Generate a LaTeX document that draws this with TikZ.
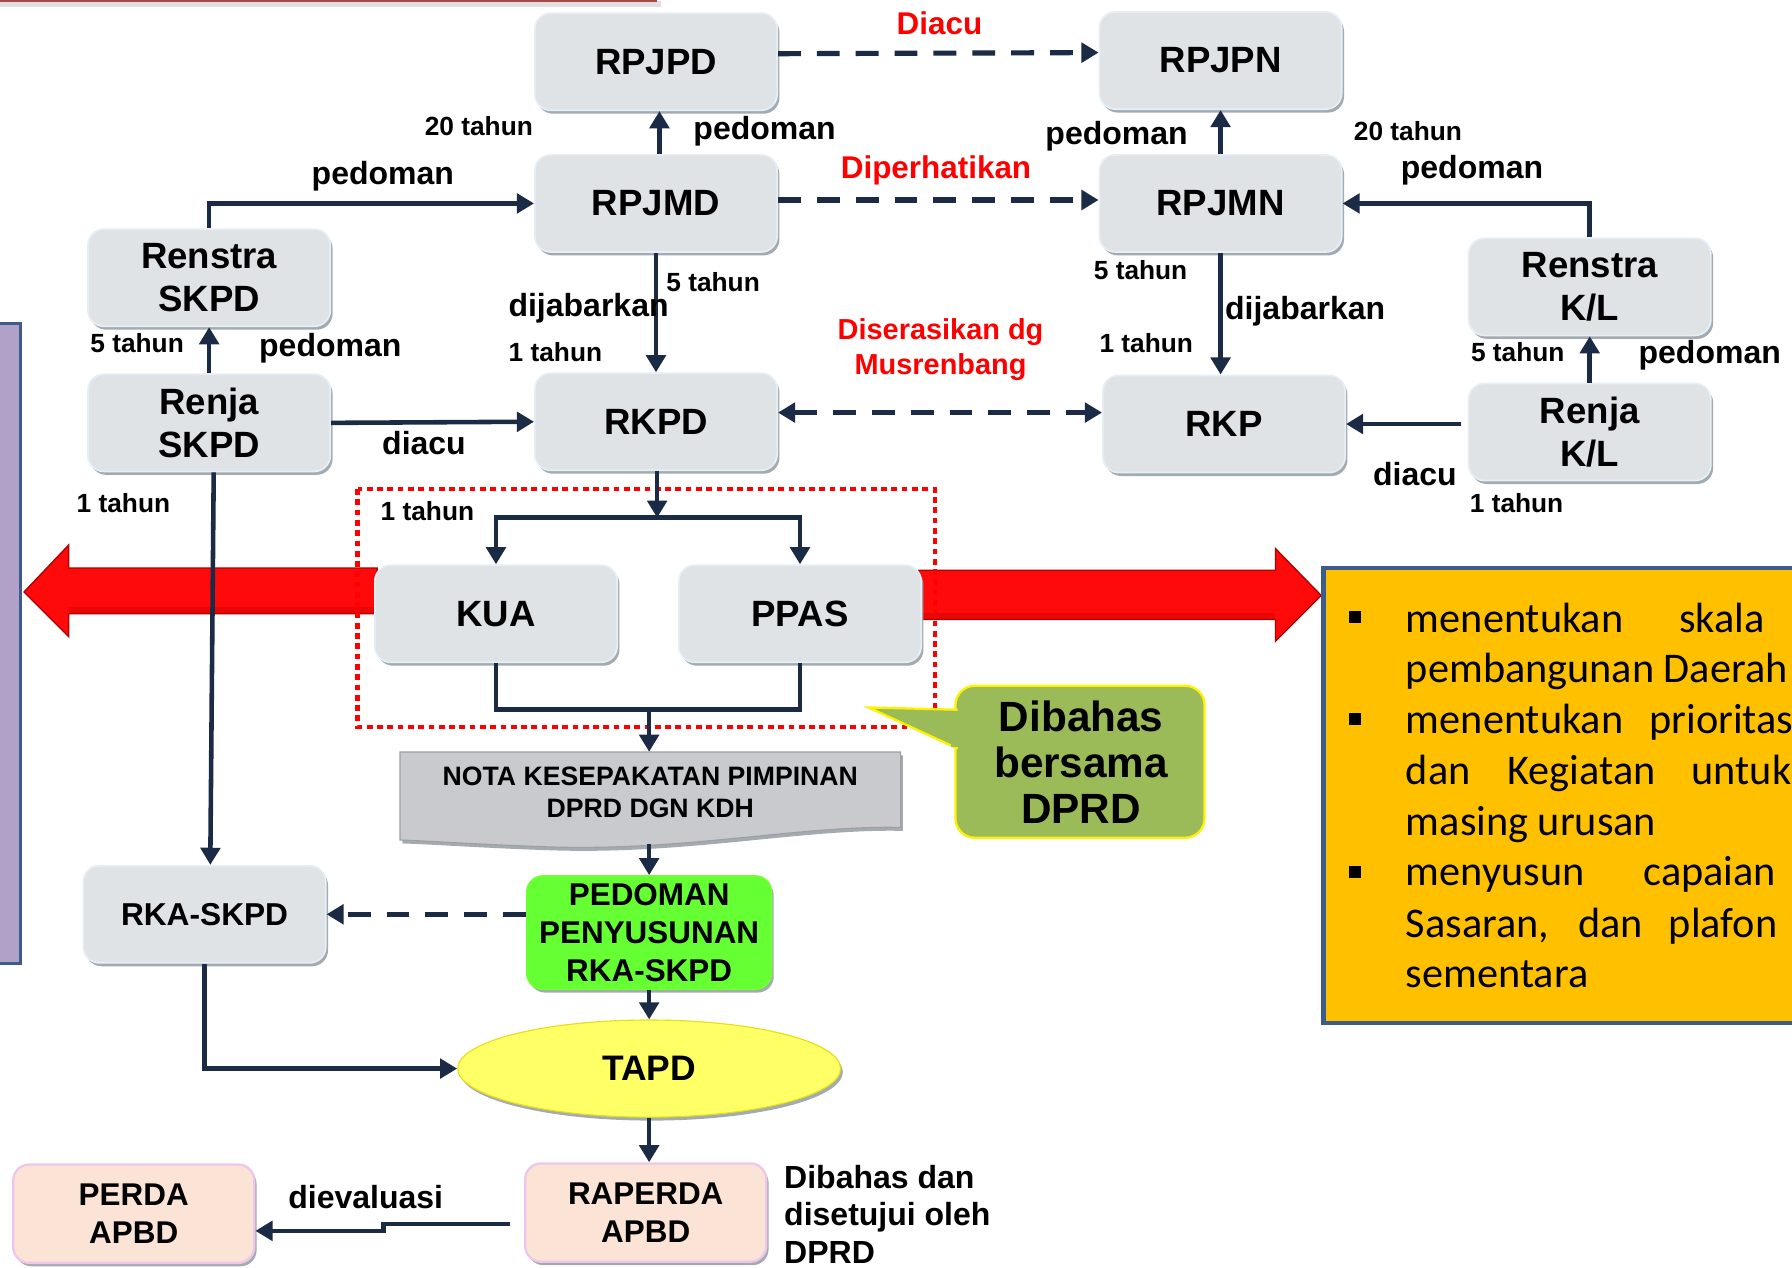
\documentclass[tikz,border=0pt]{standalone}
\usepackage{fontspec}
\setmainfont{Liberation Sans}
\newfontfamily\calib{Carlito}
\usetikzlibrary{arrows.meta,shapes.geometric,shadows,calc}
\definecolor{navy}{HTML}{1C2B45}
\definecolor{boxgray}{HTML}{E0E3E5}
\definecolor{boxedge}{HTML}{E6EEF6}
\definecolor{shadowgray}{HTML}{9AA2AA}
\definecolor{gold}{HTML}{FFC000}
\definecolor{bluebord}{HTML}{3E5C8A}
\definecolor{lav}{HTML}{B1A0C7}
\definecolor{callgreen}{HTML}{9BBB59}
\definecolor{brightgreen}{HTML}{66FF33}
\definecolor{peach}{HTML}{FBE4D5}
\definecolor{peachedge}{HTML}{EDC6EA}
\definecolor{notagray}{HTML}{C8CACD}
\definecolor{tapdyellow}{HTML}{FFFF66}
\definecolor{topred}{HTML}{A84848}
\definecolor{arrred}{HTML}{FF0A0A}
\definecolor{arrdark}{HTML}{B00000}
\newcommand{\fsz}[2]{\fontsize{#1pt}{#2pt}\selectfont}
\tikzset{
  shad/.style={drop shadow={shadow xshift=2pt, shadow yshift=-3pt, fill=shadowgray, opacity=0.9}},
  gbox/.style={shad, rounded corners=14pt, fill=boxgray, draw=boxedge, line width=1.5pt,
    minimum width=212pt, minimum height=85pt, align=center, inner sep=0pt,
    font=\bfseries\fsz{32}{38}},
  pbox/.style={shad, rounded corners=14pt, fill=peach, draw=peachedge, line width=2pt,
    minimum width=211pt, minimum height=86pt, align=center, inner sep=0pt,
    font=\bfseries\fsz{27.5}{33}},
  tip/.style={-{Triangle[length=15pt,width=17pt]}},
  conn/.style={draw=navy, line width=4pt, tip},
  lnk/.style={draw=navy, line width=4pt},
  dconn/.style={draw=navy, line width=4.5pt, dash pattern=on 20pt off 14pt, tip},
  lbl/.style={font=\bfseries\fsz{28}{33}, inner sep=0pt},
  yr/.style={font=\bfseries\fsz{23}{27}, inner sep=0pt},
  redlbl/.style={text=red, font=\bfseries\fsz{27.5}{30}, inner sep=0pt, align=center},
  yb/.style={font=\calib\fsz{37}{45}, anchor=base west, inner sep=0pt, text=black},
  bigarrow/.style={fill=arrred, draw=arrdark, line width=1.2pt},
}
\begin{document}
\begin{tikzpicture}[x=1pt,y=-1pt]
\useasboundingbox (0,0) rectangle (1568,1109);
\clip (0,0) rectangle (1568,1109);
\fill[white] (0,0) rectangle (1568,1109);

% top bar remnant
\fill[black!12] (0,1) rectangle (578,6);
\fill[topred] (0,-4) rectangle (575,2);

% left purple bar
\draw[fill=lav, draw=bluebord, line width=2.5pt] (-6,283) rectangle (18,843);

% red arrows
\path[bigarrow]
  (330,497) -- (60,497) -- (60,477) -- (21,518) -- (60,557) -- (60,537) -- (330,537) -- cycle;
\fill[arrdark!80!red, opacity=0.35] (330,531) -- (60,531) -- (60,537) -- (330,537) -- cycle;
\path[bigarrow]
  (804,499) -- (1116,499) -- (1116,480) -- (1156,521) -- (1116,561) -- (1116,542) -- (804,542) -- cycle;
\fill[arrdark!80!red, opacity=0.35] (804,536) -- (1116,536) -- (1116,542) -- (804,542) -- cycle;

% red dotted frame
\draw[red, line width=4pt, dash pattern=on 5pt off 4pt] (313,428) rectangle (818,636);

% yellow box
\draw[fill=gold, draw=bluebord, line width=4pt] (1158,497) rectangle (1590,895);
\fill (1180,535) rectangle (1191,545);
\fill (1180,624) rectangle (1191,634);
\fill (1180,758) rectangle (1191,768);
\node[yb] (w1) at (1230,553) {menentukan};
\node[yb] (w2) at (1469,553) {skala};
\node[yb] (w3) at (1230,597) {pembangunan Daerah};
\node[yb] (w4) at (1230,642) {menentukan};
\node[yb] (w5) at (1443,642) {prioritas};
\node[yb] (w6) at (1230,686) {dan};
\node[yb] (w7) at (1319,686) {Kegiatan};
\node[yb] (w8) at (1480,686) {untuk};
\node[yb] (w9) at (1230,731) {masing urusan};
\node[yb] (w10) at (1230,775) {menyusun};
\node[yb] (w11) at (1438,775) {capaian};
\node[yb] (w12) at (1230,820) {Sasaran,};
\node[yb] (w13) at (1381,820) {dan};
\node[yb] (w14) at (1460,820) {plafon};
\node[yb] (w15) at (1230,864) {sementara};

% gray boxes
\node[gbox] (rpjpd) at (574,54) {RPJPD};
\node[gbox] (rpjpn) at (1068,53) {RPJPN};
\node[gbox] (rpjmd) at (574,178) {RPJMD};
\node[gbox] (rpjmn) at (1068,178) {RPJMN};
\node[gbox] (renstraS) at (183,243) {Renstra\\SKPD};
\node[gbox] (renjaS) at (183,370) {Renja\\SKPD};
\node[gbox] (rkpd) at (574,369) {RKPD};
\node[gbox] (rkp) at (1071,371) {RKP};
\node[gbox] (renstraK) at (1391,251) {Renstra\\K/L};
\node[gbox] (renjaK) at (1391,378) {Renja\\K/L};
\node[gbox] (kua) at (434,537) {KUA};
\node[gbox] (ppas) at (700,537) {PPAS};
\node[gbox, font=\bfseries\fsz{27.7}{33}] (rka) at (179,800) {RKA-SKPD};

% nota shape
\path[shad, fill=notagray, draw=gray!75, line width=1pt]
  (350,658) -- (788,658) -- (788,724) .. controls (700,722) and (600,745) .. (480,741)
  .. controls (420,739) and (380,736) .. (350,735) -- cycle;
\node[minimum width=438pt, minimum height=80pt, inner sep=0pt] (nota) at (568,698) {};
\node[font=\bfseries\fsz{23.3}{28}, align=center, inner sep=0pt] (notatxt) at (569,693)
  {NOTA KESEPAKATAN PIMPINAN\\DPRD DGN KDH};

% callout
\node[rounded corners=17pt, fill=callgreen, draw=yellow, line width=2pt,
  minimum width=218pt, minimum height=133pt, inner sep=0pt] (callout) at (945,666.5) {};
\draw[fill=callgreen, draw=yellow, line width=2pt] (838,621) -- (760,619) -- (838,655);
\fill[callgreen] (832,622.5) rectangle (842,653.5);
\node[font=\bfseries\fsz{37}{40}, align=center, inner sep=0pt] (calltxt) at (946,667)
  {Dibahas\\bersama\\DPRD};

% pedoman penyusunan
\node[shad, rounded corners=14pt, fill=brightgreen, draw=green!60!lime!80, line width=1.5pt,
  minimum width=214pt, minimum height=99pt, align=center, inner sep=0pt,
  font=\bfseries\fsz{27.5}{33.5}] (ped) at (568,816) {PEDOMAN\\PENYUSUNAN\\RKA-SKPD};

% TAPD
\node[shad, ellipse, fill=tapdyellow, draw=yellow!90!black, line width=1pt,
  minimum width=335pt, minimum height=85pt, inner sep=0pt,
  font=\bfseries\fsz{31}{36}] (tapd) at (568,935) {TAPD};

% RAPERDA / PERDA
\node[pbox] (raperda) at (565,1061) {RAPERDA\\APBD};
\node[pbox] (perda) at (117,1062) {PERDA\\APBD};

% connectors
\draw[dconn] ([yshift=7pt]rpjpd.east) -- ([yshift=7pt]rpjpn.west);
\draw[dconn] ([yshift=3pt]rpjmd.east) -- ([yshift=3pt]rpjmn.west);
\draw[dconn, {Triangle[length=15pt,width=17pt]}-{Triangle[length=15pt,width=17pt]}]
  ([yshift=8pt]rkpd.east) -- ([yshift=8pt]rkpd.east -| rkp.west);
\draw[conn] ([xshift=3pt]rpjmd.north) -- ([xshift=3pt]rpjpd.south);
\draw[conn] (rpjmn.north) -- (rpjpn.south);
\draw[conn] (renstraS.north) |- (rpjmd.west);
\draw[conn] (renjaS.north) -- (renstraS.south);
\draw[conn] (renjaS.east) -- (rkpd.west);
\draw[conn] (rpjmd.south) -- (rkpd.north);
\draw[conn] (rpjmn.south) -- (rpjmn.south |- rkp.north);
\draw[conn] (renstraK.north) |- (rpjmn.east);
\draw[conn] (renjaK.north) -- (renstraK.south);
\draw[conn] ([xshift=-6pt]renjaK.west |- rkp.east) -- (rkp.east);
\draw[conn] ([xshift=4pt]renjaS.south) -- ([xshift=5pt]rka.north);
\coordinate (split) at (575,453);
\draw[conn] ([xshift=1pt]rkpd.south) -- (split);
\draw[lnk] ([xshift=-2pt]kua.north |- split) -- ([xshift=2pt]ppas.north |- split);
\draw[conn] (kua.north |- split) -- (kua.north);
\draw[conn] (ppas.north |- split) -- (ppas.north);
\coordinate (join) at (568,621);
\draw[lnk] (kua.south) |- (join) -| (ppas.south);
\draw[conn] (join) -- (nota.north);
\draw[conn] (nota.south) -- (ped.north);
\draw[dconn] (ped.west |- rka.east) -- (rka.east);
\draw[conn] (ped.south) -- (tapd.north);
\draw[conn] (rka.south) |- (tapd.west);
\draw[conn] (tapd.south) -- (tapd.south |- raperda.north);
\draw[conn] ([xshift=-12pt,yshift=-10pt]raperda.west) -- ++(-111,0) -- ++(0,6) -- ([yshift=-15pt]perda.east);

% labels
\node[redlbl] (lDiacu) at (822,20) {Diacu};
\node[redlbl] (lDiper) at (819,149) {Diperhatikan};
\node[redlbl, font=\bfseries\fsz{25.3}{30}] (lSeras) at (823,306) {Diserasikan dg\\Musrenbang};
\node[yr] (t20a) at (419,110) {20 tahun};
\node[lbl] (p1) at (669,115) {pedoman};
\node[lbl] (p2) at (977,119) {pedoman};
\node[yr] (t20b) at (1232,115) {20 tahun};
\node[lbl] (p3) at (1288,149) {pedoman};
\node[lbl] (p4) at (335,154) {pedoman};
\node[yr] (t5a) at (624,247) {5 tahun};
\node[lbl] (dj1) at (515,270) {dijabarkan};
\node[yr] (t1a) at (486,308) {1 tahun};
\node[yr] (t5b) at (998,236) {5 tahun};
\node[lbl] (dj2) at (1142,272) {dijabarkan};
\node[yr] (t1b) at (1003,300) {1 tahun};
\node[yr] (t5c) at (120,300) {5 tahun};
\node[lbl] (p5) at (289,305) {pedoman};
\node[lbl] (d1) at (371,388) {diacu};
\node[yr] (t1c) at (108,440) {1 tahun};
\node[yr] (t5d) at (1328,308) {5 tahun};
\node[lbl] (p6) at (1496,311) {pedoman};
\node[lbl] (d2) at (1238,415) {diacu};
\node[yr] (t1d) at (1327,440) {1 tahun};
\node[yr] (t1e) at (374,447) {1 tahun};
\node[lbl] (dev) at (320,1047) {dievaluasi};
\node[lbl, anchor=north west, align=left] (dbh) at (686,1019) {Dibahas dan\\disetujui oleh\\DPRD};
\end{tikzpicture}
\end{document}
